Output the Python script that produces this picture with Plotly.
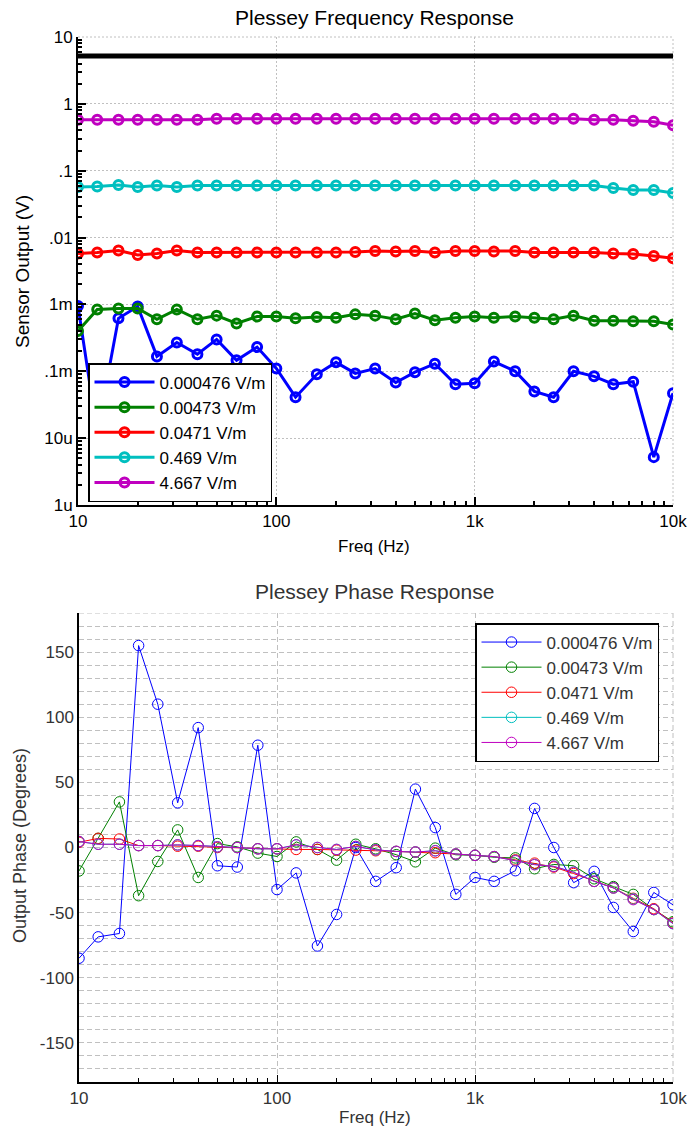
import plotly.graph_objects as go

# ---------------- data ----------------
freqs = [10, 12.5, 16, 20, 25, 31.5, 40, 50, 63, 80, 100, 125, 160, 200, 250, 315,
         400, 500, 630, 800, 1000, 1250, 1600, 2000, 2500, 3150, 4000, 5000, 6300, 8000, 10000]

series_names = ["0.000476 V/m", "0.00473 V/m", "0.0471 V/m", "0.469 V/m", "4.667 V/m"]
series_colors = ["#0000FF", "#008000", "#FF0000", "#00BFBF", "#BF00BF"]

# Sensor output (V)
amp_0000476 = [0.95e-3, 12e-6, 0.62e-3, 0.93e-3, 0.167e-3, 0.27e-3, 0.18e-3, 0.30e-3, 0.146e-3, 0.23e-3,
               0.11e-3, 0.041e-3, 0.09e-3, 0.136e-3, 0.093e-3, 0.11e-3, 0.068e-3, 0.097e-3, 0.13e-3, 0.064e-3,
               0.066e-3, 0.14e-3, 0.1e-3, 0.05e-3, 0.041e-3, 0.1e-3, 0.084e-3, 0.064e-3, 0.07e-3, 5.2e-6, 0.047e-3]
amp_00473 = [0.40e-3, 0.84e-3, 0.87e-3, 0.87e-3, 0.60e-3, 0.84e-3, 0.60e-3, 0.68e-3, 0.52e-3, 0.66e-3,
             0.66e-3, 0.62e-3, 0.65e-3, 0.63e-3, 0.71e-3, 0.68e-3, 0.60e-3, 0.73e-3, 0.58e-3, 0.63e-3,
             0.66e-3, 0.63e-3, 0.66e-3, 0.63e-3, 0.60e-3, 0.68e-3, 0.57e-3, 0.57e-3, 0.56e-3, 0.56e-3, 0.50e-3]
amp_0471 = [5.8e-3, 6.0e-3, 6.4e-3, 5.5e-3, 5.8e-3, 6.4e-3, 6.0e-3, 6.0e-3, 6.0e-3, 6.0e-3,
            6.0e-3, 6.0e-3, 6.0e-3, 6.0e-3, 6.1e-3, 6.3e-3, 6.2e-3, 6.3e-3, 6.0e-3, 6.3e-3,
            6.3e-3, 6.2e-3, 6.3e-3, 6.0e-3, 6.0e-3, 6.0e-3, 6.0e-3, 5.8e-3, 5.7e-3, 5.3e-3, 4.9e-3]
amp_469 = [0.057, 0.058, 0.061, 0.057, 0.060, 0.057, 0.060, 0.060, 0.060, 0.060,
           0.060, 0.060, 0.060, 0.060, 0.060, 0.060, 0.060, 0.060, 0.060, 0.060,
           0.060, 0.060, 0.060, 0.060, 0.060, 0.060, 0.060, 0.055, 0.0515, 0.0515, 0.0465]
amp_4667 = [0.58, 0.58, 0.58, 0.58, 0.58, 0.58, 0.58, 0.60, 0.60, 0.60,
            0.60, 0.60, 0.60, 0.60, 0.60, 0.60, 0.60, 0.60, 0.60, 0.60,
            0.60, 0.60, 0.60, 0.60, 0.60, 0.60, 0.58, 0.58, 0.56, 0.54, 0.48]

ref_freqs = [10, 10000]
ref_volts = [5.2, 5.2]

# Output phase (degrees)
ph_0000476 = [-85, -68.6, -66, 155, 110, 34.3, 92, -14, -15, 78.5,
              -32.3, -19.5, -75.6, -51.4, 0, -26, -15.5, 44.8, 15.3, -36,
              -23, -26, -17.8, 30, 0, -27, -18.3, -46, -64.5, -34.5, -44]
ph_00473 = [-18, 7, 35, -37, -10.7, 13.5, -23, 3, 0.5, -4.3,
            -6.9, 4.3, -1.5, -9.7, 2.5, -1, -5.5, -11, -0.5, -5.6,
            -6, -7.5, -8, -16.3, -13, -14, -24, -30, -36, -47.6, -57]
ph_0471 = [4, 7, 6.5, 1.5, 1.5, 1, 1, 0, 0, -1,
           -1, -1.5, -1.5, -2, -2, -2.5, -3, -3.5, -4, -5,
           -6, -7, -9.5, -12, -15, -20, -26, -31, -39, -47, -58]
ph_469 = [4.5, 2.5, 2.5, 1.5, 1.5, 2, 1.5, 0.5, 0, -1,
          -1, 2, 0, -1.5, 0.8, -1.8, -3, -3.5, -2.5, -5,
          -6, -7, -10, -13, -14.5, -19, -26, -31, -39.5, -47.6, -58.5]
ph_4667 = [4.6, 2.5, 2.5, 1.5, 1.5, 2, 1.5, 0.5, 0, -1,
           -1, 2, 0, -1.5, 0.8, -1.8, -3, -3.5, -2.5, -5,
           -6, -7, -10.2, -13.2, -14.5, -19, -26, -31, -40, -47.6, -58.3]

amp_series = [amp_0000476, amp_00473, amp_0471, amp_469, amp_4667]
ph_series = [ph_0000476, ph_00473, ph_0471, ph_469, ph_4667]

amp_tickvals = [1e-6, 1e-5, 1e-4, 1e-3, 1e-2, 0.1, 1, 10]
amp_ticktext = ["1u", "10u", ".1m", "1m", ".01", ".1", "1", "10"]
freq_tickvals = [10, 100, 1000, 10000]
freq_ticktext = ["10", "100", "1k", "10k"]
phase_tickvals = [-150, -100, -50, 0, 50, 100, 150]
phase_ticktext = ["-150", "-100", "-50", "0", "50", "100", "150"]

# ---------------- figure ----------------
W, H = 689, 1133
FONT = "Liberation Sans, Arial, sans-serif"


def px_x(p):
    return p / W


def px_y(p):
    return 1 - p / H


minor_freq = [m * d for d in (10, 100, 1000) for m in range(2, 10)]
minor_amp = [m * d for d in (1e-6, 1e-5, 1e-4, 1e-3, 1e-2, 0.1, 1) for m in range(2, 10)]

fig = go.Figure()

# top chart
fig.add_trace(go.Scatter(x=ref_freqs, y=ref_volts, mode="lines",
                         line=dict(color="black", width=5), showlegend=False,
                         xaxis="x", yaxis="y"))
for name, col, vals in zip(series_names, series_colors, amp_series):
    fig.add_trace(go.Scatter(x=freqs, y=vals, mode="lines+markers", name=name,
                             line=dict(color=col, width=3),
                             marker=dict(symbol="circle-open", size=9, color=col,
                                         line=dict(width=3, color=col)),
                             xaxis="x", yaxis="y", legend="legend"))

# bottom chart
for name, col, vals in zip(series_names, series_colors, ph_series):
    fig.add_trace(go.Scatter(x=freqs, y=vals, mode="lines+markers", name=name,
                             line=dict(color=col, width=1),
                             marker=dict(symbol="circle-open", size=10.5, color=col,
                                         line=dict(width=1, color=col)),
                             xaxis="x2", yaxis="y2", legend="legend2"))

top_dom_y = [px_y(505), px_y(37)]
bot_dom_y = [px_y(1082), px_y(613)]

DOT = "2px,2px"
DASH = "5px,3px"
GRID = "#c0c0c0"


def label(text, x, y, size, color, angle=0):
    return dict(text=text, x=px_x(x), y=px_y(y), xref="paper", yref="paper",
                xanchor="center", yanchor="middle", showarrow=False, textangle=angle,
                font=dict(size=size, color=color))


fig.update_layout(
    width=W, height=H,
    margin=dict(l=0, r=0, t=0, b=0, autoexpand=False),
    paper_bgcolor="white", plot_bgcolor="white",
    font=dict(family=FONT, size=17, color="black"),
    xaxis=dict(type="log", range=[1, 4], domain=[px_x(78), px_x(673)], anchor="y",
               automargin=False,
               tickmode="array", tickvals=freq_tickvals, ticktext=freq_ticktext,
               ticks="inside", ticklen=8, tickcolor="black", tickwidth=1.5,
               showline=True, linecolor="black", linewidth=2,
               showgrid=True, gridcolor=GRID, griddash=DOT, gridwidth=1,
               minor=dict(tickvals=minor_freq, ticks="inside", ticklen=4, tickcolor="black",
                          showgrid=False),
               tickfont=dict(size=17, color="black"), zeroline=False),
    yaxis=dict(type="log", range=[-6, 1], domain=top_dom_y, anchor="x",
               automargin=False,
               tickmode="array", tickvals=amp_tickvals, ticktext=amp_ticktext,
               ticks="inside", ticklen=8, tickcolor="black", tickwidth=1.5,
               showline=True, linecolor="black", linewidth=2,
               showgrid=True, gridcolor=GRID, griddash=DOT, gridwidth=1,
               minor=dict(tickvals=minor_amp, ticks="inside", ticklen=4, tickcolor="black",
                          showgrid=False),
               tickfont=dict(size=17, color="black"), zeroline=False),
    xaxis2=dict(type="log", range=[1, 4], domain=[px_x(79), px_x(673)], anchor="y2",
                automargin=False,
                tickmode="array", tickvals=freq_tickvals, ticktext=freq_ticktext,
                ticks="inside", ticklen=7, tickcolor="black", tickwidth=1,
                showline=True, linecolor="black", linewidth=1.5,
                showgrid=True, gridcolor=GRID, griddash=DASH, gridwidth=1,
                minor=dict(tickvals=minor_freq, ticks="inside", ticklen=4, tickcolor="black",
                           showgrid=False),
                tickfont=dict(size=17, color="#333333"), zeroline=False),
    yaxis2=dict(range=[-180, 180], domain=bot_dom_y, anchor="x2",
                automargin=False,
                tickmode="array", tickvals=phase_tickvals, ticktext=phase_ticktext,
                ticks="", showline=True, linecolor="black", linewidth=1.5,
                showgrid=True, gridcolor=GRID, griddash=DASH, gridwidth=1,
                minor=dict(dtick=10, tick0=0, showgrid=True, gridcolor=GRID,
                           griddash=DASH, gridwidth=1, ticks=""),
                tickfont=dict(size=17, color="#333333"), zeroline=False),
    legend=dict(x=px_x(88), y=px_y(363), xanchor="left", yanchor="top",
                bordercolor="black", borderwidth=1.5, bgcolor="white",
                font=dict(size=17, color="black"), tracegroupgap=0,
                itemwidth=60),
    legend2=dict(x=px_x(475), y=px_y(623), xanchor="left", yanchor="top",
                 bordercolor="black", borderwidth=1.5, bgcolor="white",
                 font=dict(size=17, color="#333333"), tracegroupgap=0,
                 itemwidth=60),
    shapes=[
        # plot-area frame edges drawn as grid-style lines (top / right)
        dict(type="line", xref="x2 domain", yref="y2", x0=0, x1=1, y0=180, y1=180,
             line=dict(color=GRID, width=1, dash=DASH), layer="below"),
        dict(type="line", xref="x2 domain", yref="y2 domain", x0=1, x1=1, y0=0, y1=1,
             line=dict(color=GRID, width=1, dash=DASH), layer="below"),
        dict(type="line", xref="x domain", yref="y domain", x0=1, x1=1, y0=0, y1=1,
             line=dict(color=GRID, width=1, dash=DOT), layer="below"),
        dict(type="line", xref="x domain", yref="y domain", x0=0, x1=1, y0=1, y1=1,
             line=dict(color=GRID, width=1, dash=DOT), layer="below"),
    ],
    annotations=[
        label("Plessey Frequency Response", 374, 17, 21, "black"),
        label("Freq (Hz)", 374, 546, 17, "black"),
        label("Sensor Output (V)", 22, 272, 19, "black", -90),
        label("Plessey Phase Response", 374, 591, 21, "#333333"),
        label("Freq (Hz)", 375, 1117, 17, "#333333"),
        label("Output Phase (Degrees)", 20, 846, 18, "#333333", -90),
    ],
)

# the page's default 8px body margin would push the fixed-size figure off the window
fig.write_html("out.html", config={"displayModeBar": False},
               post_script="document.body.style.margin='0px';")
